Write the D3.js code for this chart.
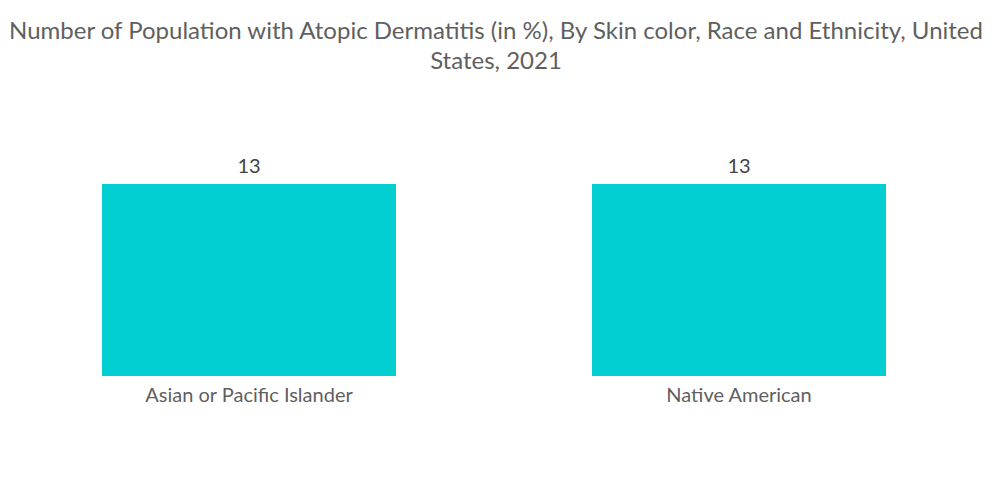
<!DOCTYPE html>
<html>
<head>
<meta charset="utf-8">
<script src="https://cdn.jsdelivr.net/npm/d3@7"></script>
<style>
  body { margin: 0; background: #fff; }
  svg { display: block; font-family: Lato, "Open Sans", sans-serif; }
</style>
</head>
<body>
<svg id="chart"></svg>
<script>
const width = 1000;
const height = 504;

const categories = ["Asian or Pacific Islander", "Native American"];
const values = [13, 13];
const titleLines = [
    "Number of Population with Atopic Dermatitis (in %), By Skin color, Race and Ethnicity, United",
    "States, 2021"
];

const barColor = "#00ced1";
const textColor = "#5f5f5f";

const svg = d3.select("#chart")
    .attr("width", width)
    .attr("height", height);

svg.append("g")
    .selectAll("text")
    .data(titleLines).enter()
    .append("text")
    .attr("x", 496)
    .attr("y", (d, i) => 39 + i * 30)
    .attr("text-anchor", "middle")
    .attr("font-size", 24)
    .attr("fill", textColor)
    .text(d => d);

const x = d3.scaleBand()
    .domain(categories)
    .range([4, 984])
    .paddingInner(0.4)
    .paddingOuter(0.2);

const y = d3.scaleLinear()
    .domain([0, 13])
    .range([376, 184]);

const data = categories.map((c, i) => ({ cat: c, value: values[i] }));

svg.append("g")
    .selectAll("rect")
    .data(data).enter()
    .append("rect")
    .attr("x", d => x(d.cat))
    .attr("y", d => y(d.value))
    .attr("width", x.bandwidth())
    .attr("height", d => y(0) - y(d.value))
    .attr("fill", barColor);

svg.append("g")
    .selectAll("text")
    .data(data).enter()
    .append("text")
    .attr("x", d => x(d.cat) + x.bandwidth() / 2)
    .attr("y", d => y(d.value) - 11)
    .attr("text-anchor", "middle")
    .attr("font-size", 20)
    .attr("fill", "#444")
    .text(d => d.value);

// category axis, no line or ticks
const xAxis = svg.append("g")
    .attr("transform", "translate(0," + y(0) + ")")
    .call(d3.axisBottom(x).tickSize(0).tickPadding(12));
xAxis.select(".domain").remove();
xAxis.selectAll("text")
    .attr("font-family", "Lato, 'Open Sans', sans-serif")
    .attr("font-size", 20)
    .attr("fill", textColor);
</script>
</body>
</html>
